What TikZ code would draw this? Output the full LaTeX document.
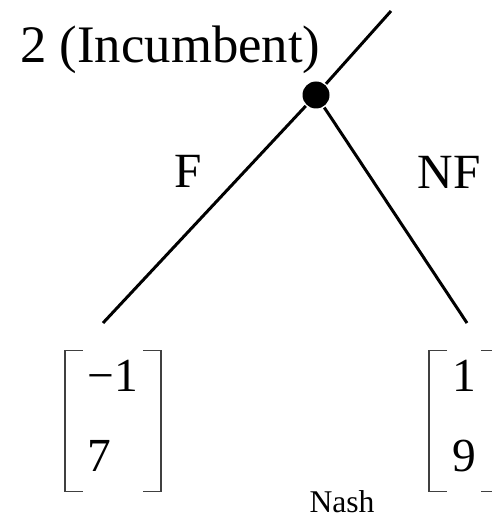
\documentclass[tikz,border=0pt]{standalone}
\usepackage{fontspec}
\setmainfont{Liberation Serif}
\usetikzlibrary{positioning}

\begin{document}
\begin{tikzpicture}[line width=1.7pt,
  dot/.style={circle, fill, inner sep=0pt, minimum size=0.54cm},
  lbl/.style={inner sep=1pt, font=\fontsize{28}{34}\selectfont},
  pay/.style={align=left, inner xsep=0.43cm, inner ysep=0pt, minimum height=2.76cm,
    font=\fontsize{27}{45.5}\selectfont},
  brk/.style={line width=1.1pt, black!75}]
  \useasboundingbox (0,0) rectangle (9.82,-10.34);
  \node[dot] (n2) at (6.32,-1.90) {};
  \coordinate (root) at (7.82,-0.22);
  \coordinate (lend) at (2.06,-6.46);
  \coordinate (rend) at (9.34,-6.46);
  \node[lbl, font=\fontsize{30}{36}\selectfont, anchor=base west] (who) at (0.34,-1.26) {2 (Incumbent)};
  \draw (root) -- (n2);
  \draw (n2) -- node[lbl, pos=.3, left=0.8cm] (f) {F} (lend);
  \draw (n2) -- node[lbl, pos=.3, right=0.95cm] (nf) {NF} (rend);
  \node[pay] (pl) at (2.26,-8.42) {−1\\7\rule[-0.2cm]{0pt}{0pt}};
  \node[pay] (pr) at (9.28,-8.42) {1\\9\rule[-0.2cm]{0pt}{0pt}};
  \foreach \n in {pl,pr} {
    \draw[brk] ([xshift=0.36cm]\n.north west) -| (\n.south west) -- ++(0.36,0);
    \draw[brk] ([xshift=-0.36cm]\n.north east) -| (\n.south east) -- ++(-0.36,0);
  }
  \node[lbl, font=\fontsize{18}{22}\selectfont, inner sep=0pt] (nash) at (6.84,-10.03) {Nash};
\end{tikzpicture}
\end{document}
